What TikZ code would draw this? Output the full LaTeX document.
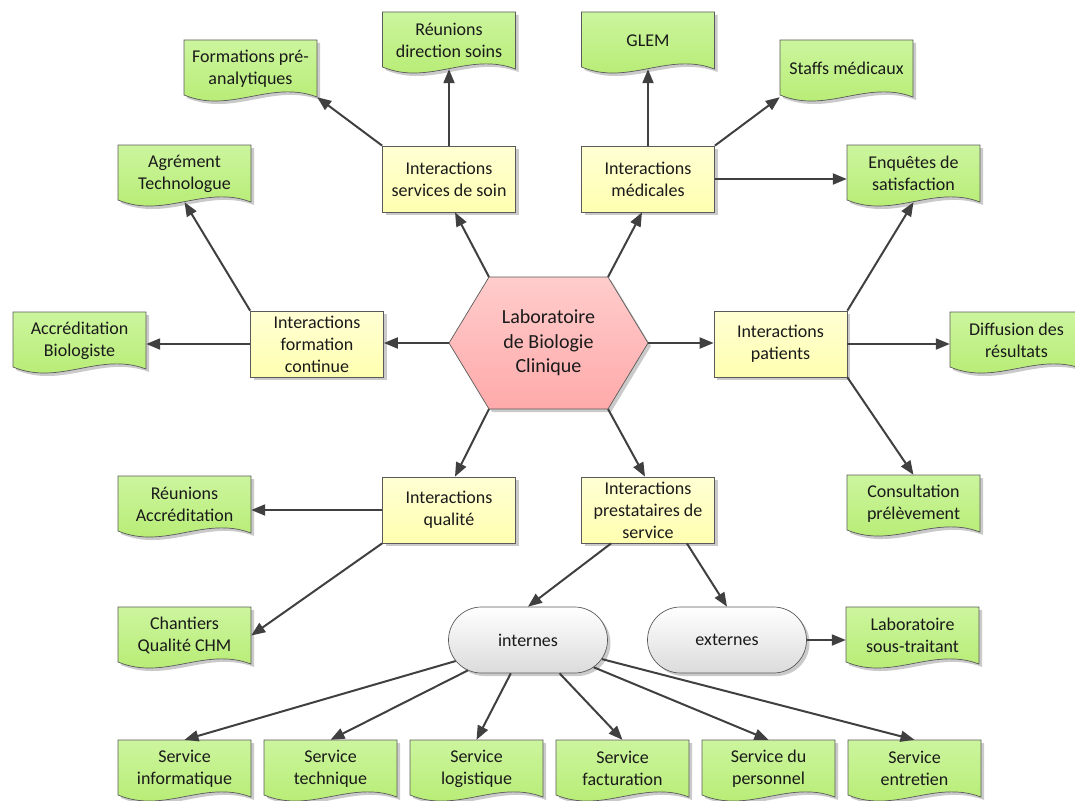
\documentclass[tikz,border=0pt]{standalone}
\usepackage{fontspec}
\setmainfont{Carlito}
\usetikzlibrary{arrows.meta,shapes.misc,shadows,calc}
\definecolor{linec}{HTML}{404040}
\definecolor{boxline}{HTML}{5A5A5A}
\definecolor{yel1}{HTML}{FFFFD4}
\definecolor{yel2}{HTML}{FFFFB0}
\definecolor{grn1}{HTML}{CCF59E}
\definecolor{grn2}{HTML}{B4EB6E}
\definecolor{pnk1}{HTML}{FFCCCC}
\definecolor{pnk2}{HTML}{FFAAAA}
\definecolor{shd}{HTML}{CACACA}
\definecolor{txt}{HTML}{1A1A1A}
\tikzset{
  bigfont/.style={font=\fontsize{18}{22}\selectfont, text=txt},
  ibox/.style={rectangle, draw=boxline, line width=0.7pt, top color=yel1, bottom color=yel2,
    minimum width=133pt, minimum height=66pt, inner sep=0pt, align=center, bigfont,
    drop shadow={shadow xshift=3pt, shadow yshift=-3pt, fill=shd, opacity=1}},
  doctext/.style={inner sep=0pt, minimum width=133pt, minimum height=57pt, align=center, bigfont},
  docshape/.style={draw=boxline, line width=0.7pt, top color=grn1, bottom color=grn2},
  pill/.style={rounded rectangle, draw=boxline, line width=0.7pt, top color=white, bottom color=black!14,
    minimum width=159pt, minimum height=66pt, inner sep=0pt, bigfont,
    drop shadow={shadow xshift=3pt, shadow yshift=-3pt, fill=shd, opacity=1}},
  conn/.style={draw=linec, line width=2pt, -{Triangle[length=14pt,width=11pt]}},
}
% document shape: name, x0, y0, text
\newcommand\docbox[4]{%
  \fill[shd] (#2+3,#3+3) -- (#2+136,#3+3) -- (#2+136,#3+60)
     .. controls (#2+89.45,#3+42.4) and (#2+49.55,#3+77.3) .. (#2+3,#3+58) -- cycle;
  \path[docshape] (#2,#3) -- (#2+133,#3) -- (#2+133,#3+57)
     .. controls (#2+86.45,#3+39.4) and (#2+46.55,#3+74.3) .. (#2,#3+55) -- cycle;
  \node[doctext] (#1) at (#2+66.5,#3+28.5) {#4};
}
\begin{document}
\begin{tikzpicture}[x=1pt,y=-1pt]
\useasboundingbox (0,0) rectangle (1075,800);

% hexagon
\coordinate (hL) at (449,343);
\coordinate (hTL) at (489,277);
\coordinate (hTR) at (608,277);
\coordinate (hR) at (648,343);
\coordinate (hBR) at (608,409);
\coordinate (hBL) at (489,409);
\fill[shd] (452,346) -- (492,280) -- (611,280) -- (651,346) -- (611,412) -- (492,412) -- cycle;
\path[draw=boxline, line width=0.7pt, top color=pnk1, bottom color=pnk2]
  (hL) -- (hTL) -- (hTR) -- (hR) -- (hBR) -- (hBL) -- cycle;
\node[align=center, font=\fontsize{20}{24.4}\selectfont, text=txt] (hex) at (548.5,343) {Laboratoire\\de Biologie\\Clinique};

% interaction boxes
\node[ibox] (soin) at (449,179) {Interactions\\services de soin};
\node[ibox] (med) at (648,179) {Interactions\\médicales};
\node[ibox] (form) at (317,344) {Interactions\\formation\\continue};
\node[ibox] (pat) at (780.5,344) {Interactions\\patients};
\node[ibox] (qual) at (449,510) {Interactions\\qualité};
\node[ibox] (prest) at (648,510) {Interactions\\prestataires de\\service};

% pills
\node[pill] (int) at (528,640) {internes};
\node[pill] (ext) at (727,640) {externes};

% documents
\docbox{fpa}{184}{40}{Formations pré-\\analytiques}
\docbox{rds}{382.5}{12}{Réunions\\direction soins}
\docbox{glem}{581.5}{12}{GLEM}
\docbox{staffs}{780}{40}{Staffs médicaux}
\docbox{agr}{118}{145}{Agrément\\Technologue}
\docbox{enq}{847}{145}{Enquêtes de\\satisfaction}
\docbox{acc}{13}{312}{Accréditation\\Biologiste}
\docbox{dif}{950}{312}{Diffusion des\\résultats}
\docbox{ra}{118}{476}{Réunions\\Accréditation}
\docbox{cons}{847}{475}{Consultation\\prélèvement}
\docbox{chq}{118}{607}{Chantiers\\Qualité CHM}
\docbox{lst}{846}{607}{Laboratoire\\sous-traitant}
\docbox{s1}{118}{740}{Service\\informatique}
\docbox{s2}{264}{740}{Service\\technique}
\docbox{s3}{410}{740}{Service\\logistique}
\docbox{s4}{556}{740}{Service\\facturation}
\docbox{s5}{702}{740}{Service du\\personnel}
\docbox{s6}{848}{740}{Service\\entretien}

% connectors from hexagon
\draw[conn] (hTL) -- ([xshift=6pt]soin.south);
\draw[conn] (hTR) -- ([xshift=-6pt]med.south);
\draw[conn] (hL) -- (hL -| form.east);
\draw[conn] (hR) -- (hR -| pat.west);
\draw[conn] (hBL) -- ([xshift=6pt]qual.north);
\draw[conn] (hBR) -- ([xshift=-3pt]prest.north);

% connectors from interaction boxes
\draw[conn] (soin.north) -- (rds.south);
\draw[conn] (soin.north west) -- (fpa.south east);
\draw[conn] (med.north) -- (glem.south);
\draw[conn] (med.north east) -- (staffs.south west);
\draw[conn] (med.east) -- (med.east -| enq.west);
\draw[conn] (form.north west) -- (agr.south);
\draw[conn] (form.west) -- (form.west -| acc.east);
\draw[conn] (pat.north east) -- (enq.south);
\draw[conn] (pat.east) -- (pat.east -| dif.west);
\draw[conn] (pat.south east) -- (cons.north);
\draw[conn] (qual.west) -- (qual.west -| ra.east);
\draw[conn] (qual.south west) -- (chq.east);
\draw[conn] ([xshift=30pt]prest.south west) -- (int.north);
\draw[conn] ([xshift=-28pt]prest.south east) -- (ext.north);
\draw[conn] (ext.east) -- (ext.east -| lst.west);

% internes to services
\foreach \s in {s1,s2,s3,s4,s5,s6} \draw[conn] (int) -- (\s.north);
\end{tikzpicture}
\end{document}
